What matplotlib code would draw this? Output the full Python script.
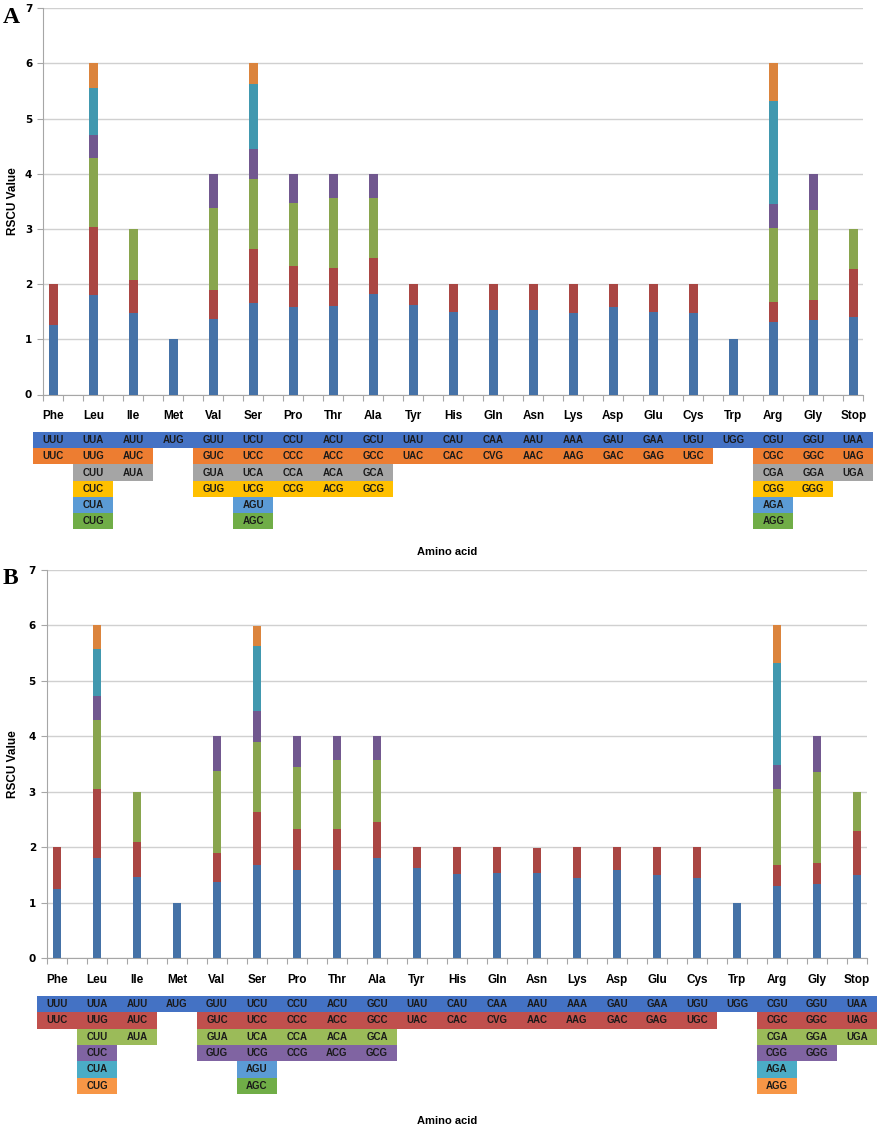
import numpy as np
import matplotlib.pyplot as plt

W, H = 886, 1133

amino = ["Phe", "Leu", "Ile", "Met", "Val", "Ser", "Pro", "Thr", "Ala", "Tyr", "His",
         "Gln", "Asn", "Lys", "Asp", "Glu", "Cys", "Trp", "Arg", "Gly", "Stop"]

codons = [["UUU", "UUC"],
          ["UUA", "UUG", "CUU", "CUC", "CUA", "CUG"],
          ["AUU", "AUC", "AUA"],
          ["AUG"],
          ["GUU", "GUC", "GUA", "GUG"],
          ["UCU", "UCC", "UCA", "UCG", "AGU", "AGC"],
          ["CCU", "CCC", "CCA", "CCG"],
          ["ACU", "ACC", "ACA", "ACG"],
          ["GCU", "GCC", "GCA", "GCG"],
          ["UAU", "UAC"],
          ["CAU", "CAC"],
          ["CAA", "CVG"],
          ["AAU", "AAC"],
          ["AAA", "AAG"],
          ["GAU", "GAC"],
          ["GAA", "GAG"],
          ["UGU", "UGC"],
          ["UGG"],
          ["CGU", "CGC", "CGA", "CGG", "AGA", "AGG"],
          ["GGU", "GGC", "GGA", "GGG"],
          ["UAA", "UAG", "UGA"]]

# RSCU per codon, same order as codons
rscu_a = [[1.26, 0.74],
          [1.80, 1.23, 1.25, 0.43, 0.85, 0.44],
          [1.47, 0.61, 0.92],
          [1.00],
          [1.37, 0.52, 1.49, 0.62],
          [1.66, 0.97, 1.27, 0.55, 1.17, 0.38],
          [1.59, 0.74, 1.15, 0.52],
          [1.60, 0.70, 1.26, 0.44],
          [1.82, 0.65, 1.10, 0.43],
          [1.63, 0.37],
          [1.50, 0.50],
          [1.53, 0.47],
          [1.53, 0.47],
          [1.47, 0.53],
          [1.59, 0.41],
          [1.50, 0.50],
          [1.47, 0.53],
          [1.00],
          [1.31, 0.36, 1.35, 0.43, 1.87, 0.68],
          [1.35, 0.36, 1.64, 0.65],
          [1.40, 0.87, 0.73]]

rscu_b = [[1.25, 0.75],
          [1.80, 1.24, 1.25, 0.44, 0.85, 0.42],
          [1.47, 0.62, 0.91],
          [1.00],
          [1.37, 0.52, 1.48, 0.63],
          [1.68, 0.95, 1.27, 0.56, 1.16, 0.37],
          [1.59, 0.73, 1.13, 0.55],
          [1.59, 0.73, 1.25, 0.43],
          [1.80, 0.65, 1.12, 0.43],
          [1.62, 0.38],
          [1.51, 0.49],
          [1.53, 0.47],
          [1.53, 0.45],
          [1.45, 0.55],
          [1.59, 0.41],
          [1.49, 0.51],
          [1.44, 0.56],
          [1.00],
          [1.30, 0.38, 1.37, 0.43, 1.85, 0.67],
          [1.33, 0.38, 1.64, 0.65],
          [1.49, 0.80, 0.71]]

bar_colors = ["#4572A7", "#AA4643", "#89A54E", "#71588F", "#4198AF", "#DB843D"]
rows_a = ["#4472C4", "#ED7D31", "#A5A5A5", "#FFC000", "#5B9BD5", "#70AD47"]
rows_b = ["#4472C4", "#C0504D", "#9BBB59", "#8064A2", "#4BACC6", "#F79646"]
# Ser rows 5-6 in panel B keep the other palette
override_b = {(5, 4): "#5B9BD5", (5, 5): "#70AD47"}

SANS = "Liberation Sans"

fig = plt.figure(figsize=(W / 100, H / 100), dpi=100)


def panel(vals, row_colors, override, left, top, bottom, lab_y, tbl_top, row_h, amino_y, letter):
    ax = fig.add_axes([left / W, 1 - bottom / H, 820 / W, (bottom - top) / H])
    x = np.arange(len(amino))
    base = np.zeros(len(amino))
    for k in range(6):
        seg = np.array([v[k] if k < len(v) else 0 for v in vals])
        ax.bar(x, seg, 0.22, bottom=base, color=bar_colors[k], zorder=3)
        base += seg
    ax.set_xlim(-0.25, 20.25)
    ax.set_ylim(0, 7)
    ax.set_yticks(range(8))
    ax.set_xticks(np.arange(-0.25, 20.3, 0.5))
    ax.set_xticklabels([])
    ax.grid(axis="y", color="#D0D0D0", lw=1, zorder=0)
    for s in ["top", "right"]:
        ax.spines[s].set_visible(False)
    for s in ["left", "bottom"]:
        ax.spines[s].set_color("#A6A6A6")
    ax.tick_params(axis="both", color="#A6A6A6", length=4)
    ax.tick_params(axis="y", labelsize=7.5, pad=4)
    for t in ax.get_yticklabels():
        t.set_fontweight("bold")
    for i, name in enumerate(amino):
        fig.text((left + 10 + i * 40) / W, 1 - lab_y / H, name, ha="center", va="center",
                 fontsize=8.5, fontweight="bold", family=SANS)
    fig.text(13 / W, 1 - (top + bottom) / 2 / H, "RSCU Value", rotation=90, ha="center",
             va="center", fontsize=8.5, fontweight="bold", family=SANS)
    fig.text(3 / W, 1 - (top + 9) / H, letter, ha="left", va="center", fontsize=17,
             fontweight="bold", family="Liberation Serif")
    fig.text(447 / W, 1 - amino_y / H, "Amino acid", ha="center", va="center",
             fontsize=8, fontweight="bold", family=SANS)

    # codon table under the chart
    tb = fig.add_axes([left / W, 1 - (tbl_top + 6 * row_h) / H, 820 / W, 6 * row_h / H])
    tb.set_xlim(-0.25, 20.25)
    tb.set_ylim(6, 0)
    tb.axis("off")
    for i, cods in enumerate(codons):
        for r, c in enumerate(cods):
            col = override.get((i, r), row_colors[r])
            tb.add_patch(plt.Rectangle((i - 0.5, r), 1, 1, color=col, clip_on=False, lw=0))
            tb.text(i, r + 0.5, c, ha="center", va="center", fontsize=7, fontweight="bold",
                    color="#1a1a1a", family=SANS, clip_on=False)


panel(rscu_a, rows_a, {}, 43.3, 8.3, 394.5, 416, 432, 16.2, 552, "A")
panel(rscu_b, rows_b, override_b, 47, 570, 958, 980, 996, 16.3, 1121, "B")

plt.savefig("out.png", dpi=100)
